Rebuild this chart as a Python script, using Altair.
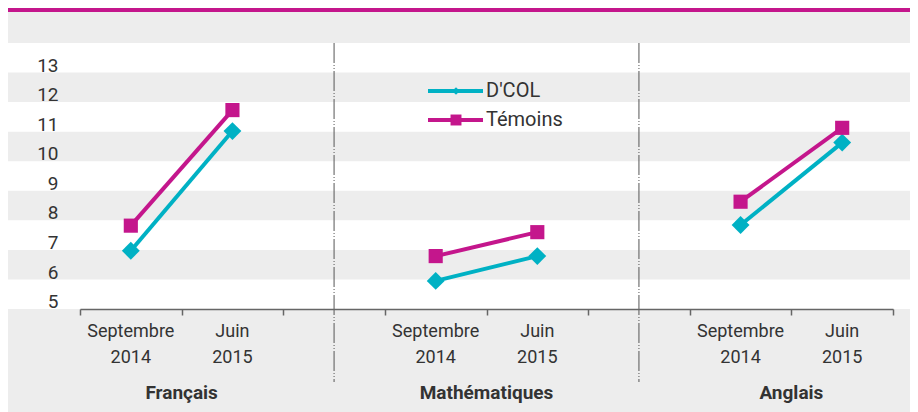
import altair as alt
import pandas as pd

# ---- data ----
subjects = ["Français", "Mathématiques", "Anglais"]
periods = ["Septembre\n2014", "Juin\n2015"]
series = ["D'COL", "Témoins"]
dcol = [6.72, 10.77, 5.70, 6.54, 7.59, 10.38]
temoins = [7.57, 11.48, 6.54, 7.35, 8.38, 10.88]
y_ticks = [5, 6, 7, 8, 9, 10, 11, 12, 13]

TEAL = "#00B1C4"
MAGENTA = "#C4168C"
GREY = "#EDEDED"
TEXT = "#333333"
AXIS = "#666666"
FONT = "Roboto"

# category slots: Sept, Juin, gap, Sept, Juin, gap, Sept, Juin
slots = []
for i, s in enumerate(subjects):
    slots += [(s, p) for p in periods]
    if i < len(subjects) - 1:
        slots.append((None, None))
n_slots = len(slots)
pos = {sl: k + 0.5 for k, sl in enumerate(slots) if sl[0] is not None}
gap_pos = [k + 0.5 for k, sl in enumerate(slots) if sl[0] is None]

rows = []
for i, s in enumerate(subjects):
    for j, p in enumerate(periods):
        rows.append({"x": pos[(s, p)], "subject": s, "series": series[0], "score": dcol[2 * i + j]})
        rows.append({"x": pos[(s, p)], "subject": s, "series": series[1], "score": temoins[2 * i + j]})
df = pd.DataFrame(rows)

label_df = pd.DataFrame({"x": [pos[(s, p)] for s in subjects for p in periods],
                         "label": [p for s in subjects for p in periods]})
subj_df = pd.DataFrame({"x": [(pos[(s, periods[0])] + pos[(s, periods[1])]) / 2 for s in subjects],
                        "subject": subjects})
gap_df = pd.DataFrame({"x": gap_pos})
bands = pd.DataFrame({"lo": [t - 0.25 for t in y_ticks if t % 2 == 0],
                      "hi": [t + 0.75 for t in y_ticks if t % 2 == 0]})
one = pd.DataFrame({"a": [0]})

W, H = 813, 266
LEFT, TOP = 72, 35
TOTAL_W, TOTAL_H = 902, 404

xscale = alt.Scale(domain=[0, n_slots], nice=False, zero=False)
yscale = alt.Scale(domain=[4.75, 13.75], nice=False, zero=False)

xaxis = alt.Axis(title=None, values=list(range(n_slots + 1)), labels=False, grid=False,
                 domainColor=AXIS, domainWidth=1.5, tickColor=AXIS, tickWidth=1.5, tickSize=6,
                 zindex=1)
yaxis = alt.Axis(title=None, values=y_ticks, ticks=False, domain=False, grid=False,
                 labelFont=FONT, labelFontSize=19, labelColor=TEXT, labelPadding=22, zindex=1)


def X(field="x"):
    return alt.X(f"{field}:Q", scale=xscale, axis=xaxis)


band_layer = alt.Chart(bands).mark_rect(color=GREY).encode(
    x=alt.value(-LEFT), x2=alt.value(TOTAL_W - LEFT),
    y=alt.Y("lo:Q", scale=yscale, axis=yaxis), y2="hi:Q")

top_grey = alt.Chart(one).mark_rect(color=GREY).encode(
    x=alt.value(-LEFT), x2=alt.value(TOTAL_W - LEFT), y=alt.value(-31), y2=alt.value(0))
top_line = alt.Chart(one).mark_rect(color=MAGENTA).encode(
    x=alt.value(-LEFT), x2=alt.value(TOTAL_W - LEFT), y=alt.value(-TOP), y2=alt.value(-31))
bottom_grey = alt.Chart(one).mark_rect(color=GREY).encode(
    x=alt.value(-LEFT), x2=alt.value(TOTAL_W - LEFT), y=alt.value(H), y2=alt.value(TOTAL_H - TOP))

separators = alt.Chart(gap_df).mark_rule(color="#555555", strokeWidth=1,
                                         strokeDash=[20, 2, 1, 2, 1, 2]).encode(
    x=X(), y=alt.value(0), y2=alt.value(339))

color = alt.Color("series:N", scale=alt.Scale(domain=series, range=[TEAL, MAGENTA]), legend=None)
shape = alt.Shape("series:N", scale=alt.Scale(domain=series, range=["diamond", "square"]), legend=None)
size = alt.Size("series:N", scale=alt.Scale(domain=series, range=[320, 200]), legend=None)

lines = alt.Chart(df).mark_line(strokeWidth=4).encode(
    x=X(), y=alt.Y("score:Q", scale=yscale, axis=yaxis), color=color, detail="subject:N")
points = alt.Chart(df).mark_point(filled=True, opacity=1).encode(
    x=X(), y=alt.Y("score:Q", scale=yscale, axis=yaxis), color=color, shape=shape, size=size)

xlabels = alt.Chart(label_df).mark_text(font=FONT, fontSize=18, color=TEXT, align="center",
                                        baseline="middle", lineBreak="\n", lineHeight=26).encode(
    x=X(), y=alt.value(H + 23), text="label:N")

titles = alt.Chart(subj_df).mark_text(font=FONT, fontSize=19, fontWeight="bold", color=TEXT,
                                      baseline="middle", align="center").encode(
    x=X(), y=alt.value(350), text="subject:N")

leg = []
for k, (name, col, shp, sz) in enumerate(zip(series, [TEAL, MAGENTA], ["diamond", "square"], [60, 120])):
    yy = 48 + 29 * k
    leg.append(alt.Chart(one).mark_rule(color=col, strokeWidth=4).encode(
        x=alt.value(348), x2=alt.value(403), y=alt.value(yy)))
    leg.append(alt.Chart(one).mark_point(filled=True, opacity=1, color=col, shape=shp, size=sz).encode(
        x=alt.value(376), y=alt.value(yy)))
    leg.append(alt.Chart(one).mark_text(font=FONT, fontSize=20, color=TEXT, align="left",
                                        baseline="middle", text=name).encode(
        x=alt.value(406), y=alt.value(yy)))

chart = alt.layer(top_line, top_grey, bottom_grey, band_layer, separators, lines, points,
                  xlabels, titles, *leg).properties(
    width=W, height=H,
    autosize=alt.AutoSizeParams(type="none"),
    padding={"left": LEFT, "top": TOP, "right": TOTAL_W - LEFT - W, "bottom": TOTAL_H - TOP - H},
    background="white",
).configure_view(stroke=None)

chart.save("out.html", embed_options={"renderer": "svg", "actions": False})
